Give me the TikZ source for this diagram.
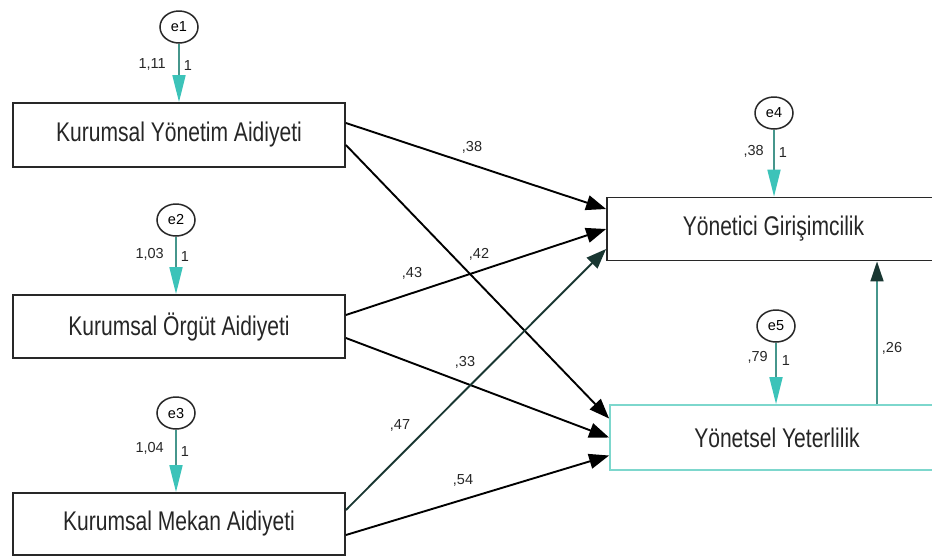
\documentclass[tikz,border=0pt]{standalone}
\usepackage{fontspec}
\setmainfont{Liberation Sans}
\newfontfamily\boxfont[FakeStretch=0.78]{Liberation Sans}
\usetikzlibrary{arrows.meta,shapes.geometric}
\definecolor{tealhead}{RGB}{60,195,185}
\definecolor{tealline}{RGB}{70,150,140}
\definecolor{tealbox}{RGB}{125,215,205}
\definecolor{darkhead}{RGB}{25,55,50}
\definecolor{boxline}{RGB}{40,40,40}
\tikzset{
  varbox/.style={draw=boxline, line width=1.8pt, fill=white, rectangle, inner sep=0pt,
    font=\boxfont\fontsize{27}{30}\selectfont, text=black!85},
  errc/.style={draw=boxline, line width=1.5pt, ellipse, minimum width=38pt, minimum height=32pt,
    inner sep=0pt, font=\fontsize{14.5}{16}\selectfont},
  path/.style={draw=black, line width=1.9pt, -{Triangle[length=20pt,width=15pt]}},
  errarrow/.style={draw=tealline, line width=1.7pt, -{Triangle[length=27pt,width=13pt,color=tealhead]}},
  lbl/.style={font=\fontsize{14.5}{16}\selectfont, text=black!85, inner sep=0pt}
}
\begin{document}
\begin{tikzpicture}[x=1pt,y=-1pt]
\useasboundingbox (0,0) rectangle (932,558);
\begin{scope}
\clip (0,0) rectangle (932,558);
% boxes
\node[varbox, minimum width=332pt, minimum height=64pt] (b1) at (179,135) {Kurumsal Yönetim Aidiyeti};
\node[varbox, minimum width=332pt, minimum height=63pt] (b2) at (179,326.5) {Kurumsal Örgüt Aidiyeti};
\node[varbox, minimum width=332pt, minimum height=62pt] (b3) at (179,524) {Kurumsal Mekan Aidiyeti};
\node[varbox, minimum width=333pt, minimum height=63pt] (b4) at (773.5,229) {Yönetici Girişimcilik};
\node[varbox, draw=tealbox, minimum width=334pt, minimum height=65pt] (b5) at (777,437.5) {Yönetsel Yeterlilik};
\end{scope}
% error terms
\node[errc] (e1) at (179,27) {e1};
\node[errc] (e2) at (176,220) {e2};
\node[errc] (e3) at (176,413) {e3};
\node[errc] (e4) at (774,113) {e4};
\node[errc] (e5) at (776,326) {e5};
\draw[errarrow] (e1.south) -- (e1 |- b1.north);
\draw[errarrow] (e2.south) -- (e2 |- b2.north);
\draw[errarrow] (e3.south) -- (e3 |- b3.north);
\draw[errarrow] (e4.south) -- (e4 |- b4.north);
\draw[errarrow] (e5.south) -- (e5 |- b5.north);
% error labels
\node[lbl, anchor=east] (v1) at (166,64) {1,11};
\node[lbl] (w1) at (188,66) {1};
\node[lbl, anchor=east] (v2) at (164,254) {1,03};
\node[lbl] (w2) at (185,257) {1};
\node[lbl, anchor=east] (v3) at (164,448) {1,04};
\node[lbl] (w3) at (185,452) {1};
\node[lbl, anchor=east] (v4) at (764,151) {,38};
\node[lbl] (w4) at (783,153) {1};
\node[lbl, anchor=east] (v5) at (768,357) {,79};
\node[lbl] (w5) at (786,361) {1};
% structural paths
\draw[path] ([yshift=12pt]b1.east) -- ([yshift=20pt]b4.west);
\draw[path] ([yshift=-10pt]b1.east) -- ([yshift=19pt]b5.west);
\draw[path] ([yshift=11.5pt]b2.east) -- ([yshift=0pt]b4.west);
\draw[path] ([yshift=-11.5pt]b2.east) -- ([yshift=0pt]b5.west);
\draw[path, draw=darkhead] ([yshift=14pt]b3.east) -- ([yshift=-20pt]b4.west);
\draw[path] ([yshift=-11pt]b3.east) -- ([yshift=-18pt]b5.west);
\draw[draw=tealline, line width=1.7pt, -{Triangle[length=20pt,width=13pt,color=darkhead]}]
  ([xshift=100pt]b5.north) -- ([xshift=100pt]b5.north |- b4.south);
% path labels
\node[lbl] (p1) at (472,147) {,38};
\node[lbl] (p2) at (479,254) {,42};
\node[lbl] (p3) at (412,273) {,43};
\node[lbl] (p4) at (465,362) {,33};
\node[lbl] (p5) at (400,425) {,47};
\node[lbl] (p6) at (463,480) {,54};
\node[lbl] (p7) at (892,348) {,26};
\end{tikzpicture}
\end{document}
